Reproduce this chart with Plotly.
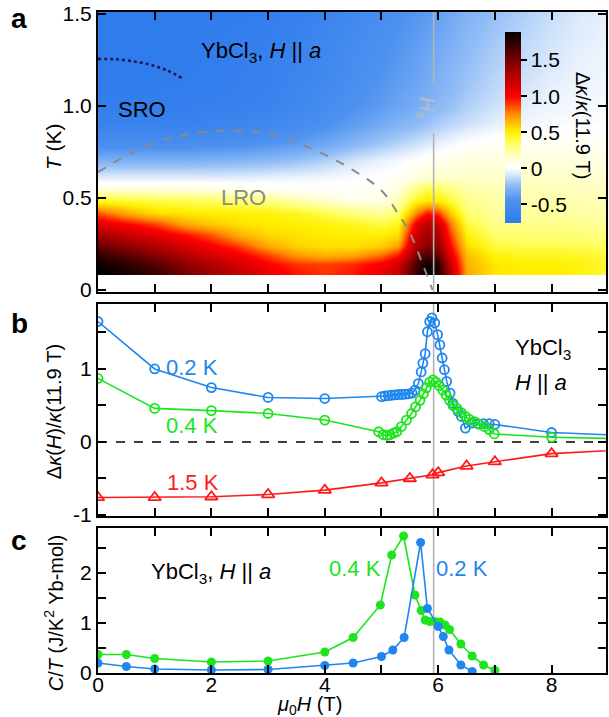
import plotly.graph_objects as go

# ---------------- Panel a: colour map data ----------------
map_H = [0, 0.5, 1, 1.5, 2, 2.5, 3, 3.5, 4, 4.5, 5, 5.3, 5.6, 5.8, 6.0, 6.2, 6.5, 7, 7.5, 8, 8.5, 9]
map_T = [0.10, 0.14, 0.19, 0.24, 0.30, 0.36, 0.42, 0.48, 0.54, 0.60, 0.70, 0.80, 0.90, 1.00, 1.10, 1.20, 1.35, 1.50]
map_z = [
    [1.90, 1.80, 1.70, 1.50, 1.35, 1.20, 1.05, 0.95, 0.90, 0.95, 1.05, 1.20, 1.70, 1.89, 1.80, 1.25, 0.68, 0.52, 0.50, 0.50, 0.48, 0.42],
    [1.85, 1.75, 1.60, 1.45, 1.30, 1.15, 1.00, 0.90, 0.88, 0.92, 1.02, 1.15, 1.65, 1.85, 1.75, 1.20, 0.66, 0.52, 0.50, 0.50, 0.48, 0.42],
    [1.72, 1.60, 1.45, 1.30, 1.15, 1.02, 0.88, 0.72, 0.65, 0.68, 0.80, 0.95, 1.45, 1.65, 1.55, 1.10, 0.62, 0.48, 0.45, 0.45, 0.44, 0.40],
    [1.55, 1.42, 1.30, 1.15, 1.02, 0.88, 0.68, 0.58, 0.54, 0.54, 0.58, 0.70, 1.30, 1.45, 1.40, 1.00, 0.55, 0.40, 0.38, 0.38, 0.37, 0.35],
    [1.35, 1.22, 1.10, 0.98, 0.85, 0.66, 0.56, 0.53, 0.51, 0.50, 0.50, 0.55, 1.20, 1.35, 1.30, 0.90, 0.48, 0.33, 0.32, 0.32, 0.31, 0.30],
    [1.10, 1.00, 0.88, 0.70, 0.60, 0.53, 0.51, 0.50, 0.48, 0.45, 0.40, 0.45, 1.05, 1.25, 1.20, 0.80, 0.40, 0.28, 0.27, 0.27, 0.26, 0.25],
    [0.85, 0.68, 0.55, 0.52, 0.50, 0.49, 0.48, 0.45, 0.38, 0.30, 0.25, 0.33, 0.75, 0.95, 0.90, 0.60, 0.32, 0.24, 0.23, 0.23, 0.22, 0.21],
    [0.45, 0.43, 0.40, 0.38, 0.36, 0.34, 0.30, 0.22, 0.15, 0.10, 0.10, 0.20, 0.46, 0.52, 0.50, 0.42, 0.27, 0.22, 0.21, 0.21, 0.20, 0.19],
    [0.15, 0.15, 0.14, 0.13, 0.12, 0.10, 0.08, 0.05, 0.03, 0.03, 0.05, 0.12, 0.30, 0.40, 0.38, 0.30, 0.22, 0.19, 0.19, 0.19, 0.18, 0.17],
    [-0.05, -0.05, -0.05, -0.05, -0.05, -0.05, -0.04, -0.03, -0.02, 0.00, 0.02, 0.05, 0.12, 0.16, 0.17, 0.16, 0.16, 0.16, 0.16, 0.16, 0.15, 0.14],
    [-0.28, -0.28, -0.28, -0.28, -0.27, -0.26, -0.24, -0.21, -0.16, -0.10, -0.05, -0.02, 0.02, 0.05, 0.07, 0.09, 0.11, 0.12, 0.12, 0.12, 0.11, 0.10],
    [-0.50, -0.50, -0.50, -0.50, -0.49, -0.47, -0.44, -0.40, -0.34, -0.27, -0.20, -0.16, -0.12, -0.09, -0.06, -0.03, 0.01, 0.04, 0.05, 0.05, 0.05, 0.04],
    [-0.64, -0.64, -0.64, -0.63, -0.62, -0.60, -0.57, -0.52, -0.46, -0.39, -0.32, -0.28, -0.24, -0.21, -0.18, -0.15, -0.11, -0.06, -0.03, -0.01, 0.00, 0.00],
    [-0.70, -0.70, -0.70, -0.69, -0.68, -0.66, -0.63, -0.58, -0.52, -0.45, -0.39, -0.35, -0.31, -0.28, -0.25, -0.22, -0.17, -0.11, -0.07, -0.04, -0.02, -0.02],
    [-0.72, -0.72, -0.72, -0.71, -0.70, -0.68, -0.65, -0.60, -0.55, -0.48, -0.42, -0.38, -0.34, -0.31, -0.28, -0.25, -0.20, -0.14, -0.10, -0.06, -0.04, -0.03],
    [-0.73, -0.73, -0.73, -0.72, -0.71, -0.69, -0.66, -0.62, -0.57, -0.50, -0.44, -0.40, -0.36, -0.33, -0.30, -0.27, -0.22, -0.16, -0.12, -0.08, -0.05, -0.04],
    [-0.74, -0.74, -0.74, -0.73, -0.72, -0.70, -0.68, -0.64, -0.59, -0.53, -0.47, -0.43, -0.39, -0.36, -0.33, -0.30, -0.25, -0.19, -0.14, -0.10, -0.07, -0.05],
    [-0.74, -0.74, -0.74, -0.74, -0.73, -0.72, -0.70, -0.67, -0.62, -0.56, -0.50, -0.46, -0.42, -0.40, -0.37, -0.33, -0.28, -0.22, -0.17, -0.12, -0.08, -0.06],
]
cbar_ticks = [-0.5, 0, 0.5, 1.0, 1.5]
cbar_text = ["-0.5", "0", "0.5", "1.0", "1.5"]

sro_H = [0, 0.3, 0.6, 0.9, 1.2, 1.5]
sro_T = [1.255, 1.253, 1.243, 1.225, 1.195, 1.148]
lro_H = [0, 0.5, 1, 1.5, 2, 2.5, 3, 3.5, 4, 4.5, 5, 5.3, 5.5, 5.7, 5.9]
lro_T = [0.64, 0.73, 0.80, 0.84, 0.86, 0.865, 0.85, 0.80, 0.735, 0.65, 0.54, 0.41, 0.31, 0.16, 0.0]
H_s = 5.92

# ---------------- Panel b: thermal conductivity ----------------
b02_H = [0, 1, 2, 3, 4, 5.0, 5.06, 5.12, 5.18, 5.24, 5.3, 5.36, 5.42, 5.48, 5.54, 5.59, 5.65, 5.70, 5.73,
         5.77, 5.81, 5.85, 5.89, 5.94, 5.99, 6.03, 6.07, 6.11, 6.15, 6.21, 6.26, 6.35, 6.41, 6.48, 6.6,
         6.7, 6.8, 6.9, 7.0, 8.0, 11.9]
b02_v = [1.65, 1.0, 0.745, 0.61, 0.595, 0.62, 0.63, 0.635, 0.64, 0.645, 0.65, 0.65, 0.655, 0.66, 0.67,
         0.71, 0.80, 0.96, 1.08, 1.21, 1.51, 1.65, 1.70, 1.63, 1.47, 1.33, 1.15, 0.99, 0.83, 0.67, 0.53,
         0.42, 0.35, 0.19, 0.26, 0.25, 0.25, 0.25, 0.24, 0.13, 0.0]
b04_H = [0, 1, 2, 3, 4, 4.95, 5.03, 5.1, 5.15, 5.21, 5.27, 5.35, 5.44, 5.53, 5.60, 5.68, 5.74, 5.79,
         5.85, 5.91, 5.96, 6.02, 6.08, 6.14, 6.20, 6.26, 6.33, 6.41, 6.48, 6.55, 6.64, 6.73, 6.82,
         6.90, 6.99, 8.0, 11.9]
b04_v = [0.87, 0.46, 0.43, 0.39, 0.30, 0.14, 0.10, 0.09, 0.10, 0.12, 0.14, 0.21, 0.30, 0.39, 0.48,
         0.57, 0.66, 0.74, 0.82, 0.85, 0.82, 0.77, 0.71, 0.64, 0.57, 0.50, 0.46, 0.40, 0.35, 0.31,
         0.28, 0.24, 0.21, 0.17, 0.11, 0.065, 0.0]
b15_H = [0, 1, 2, 3, 4, 5, 5.5, 5.9, 6.0, 6.5, 7, 8, 11.9]
b15_v = [-0.76, -0.76, -0.75, -0.72, -0.66, -0.56, -0.50, -0.45, -0.42, -0.33, -0.27, -0.16, 0.0]

# ---------------- Panel c: specific heat ----------------
c02_H = [0, 0.5, 1, 2, 3, 4, 4.5, 5, 5.2, 5.4, 5.69, 5.81, 6.0, 6.09, 6.19, 6.4, 6.6]
c02_v = [0.20, 0.13, 0.08, 0.06, 0.07, 0.15, 0.20, 0.33, 0.46, 0.71, 2.61, 1.29, 0.93, 0.73, 0.46, 0.16, 0.03]
c04_H = [0, 0.5, 1, 2, 3, 4, 4.5, 4.98, 5.18, 5.39, 5.59, 5.70, 5.77, 5.85, 5.94, 6.03, 6.12, 6.2,
         6.4, 6.6, 6.8, 7.0]
c04_v = [0.37, 0.37, 0.29, 0.22, 0.24, 0.42, 0.71, 1.36, 2.36, 2.74, 1.56, 1.25, 1.06, 1.03, 1.03,
         1.02, 0.96, 0.87, 0.58, 0.34, 0.16, 0.05]

x_ticks = [0, 1, 2, 3, 4, 5, 6, 7, 8]
x_ticktext = ["0", "", "2", "", "4", "", "6", "", "8"]

BLUE = "#1f86ee"
GREEN = "#1de41d"
RED = "#ff1a1a"
FONT = "Liberation Sans, Arial, sans-serif"

W, Hh = 609, 717
ML, MR, MT, MB = 98, 1, 12, 44
plot_h = Hh - MT - MB
plot_w = W - ML - MR


def py(ypx):
    return (Hh - MB - ypx) / plot_h


def px(xpx):
    return (xpx - ML) / plot_w


colorscale = [
    [0.0, "rgb(45,122,236)"],
    [0.12, "rgb(78,146,240)"],
    [0.2, "rgb(145,189,246)"],
    [0.265, "rgb(232,241,252)"],
    [0.29, "rgb(255,255,255)"],
    [0.33, "rgb(255,255,222)"],
    [0.42, "rgb(255,255,95)"],
    [0.475, "rgb(255,240,0)"],
    [0.57, "rgb(255,140,0)"],
    [0.66, "rgb(255,0,0)"],
    [0.8, "rgb(160,0,0)"],
    [1.0, "rgb(0,0,0)"],
]

TICKSIZE = 21
TXT = 22

fig = go.Figure()

fig.add_trace(go.Heatmap(
    x=map_H, y=map_T, z=map_z, zsmooth="best", zmin=-0.76, zmax=1.89,
    colorscale=colorscale, xaxis="x", yaxis="y", hoverinfo="skip",
    colorbar=dict(
        x=px(507), xanchor="left", thickness=16, lenmode="pixels", len=191,
        y=py(127.5), yanchor="middle", ypad=0, xpad=0, outlinewidth=0,
        tickvals=cbar_ticks, ticktext=cbar_text, ticks="outside", ticklen=6,
        tickwidth=1.5, tickcolor="black",
        tickfont=dict(size=TICKSIZE, family=FONT, color="black"),
    ),
))
fig.add_trace(go.Scatter(x=lro_H, y=lro_T, mode="lines", line=dict(color="#8a8a8a", width=2, dash="dash", shape="spline"),
                         xaxis="x", yaxis="y", hoverinfo="skip"))
fig.add_trace(go.Scatter(x=sro_H, y=sro_T, mode="lines", line=dict(color="#1a1a50", width=2.5, dash="dot", shape="spline"),
                         xaxis="x", yaxis="y", hoverinfo="skip"))

# panel b
for Hs_, v_, col, sym, sz in [(b02_H, b02_v, BLUE, "circle-open", 9),
                              (b04_H, b04_v, GREEN, "circle-open", 9),
                              (b15_H, b15_v, RED, "triangle-up-open", 11)]:
    fig.add_trace(go.Scatter(x=Hs_, y=v_, mode="lines+markers", xaxis="x2", yaxis="y2",
                             line=dict(color=col, width=1.6),
                             marker=dict(symbol=sym, size=sz, color=col, line=dict(width=1.8, color=col))))

# panel c
for Hs_, v_, col in [(c04_H, c04_v, GREEN), (c02_H, c02_v, BLUE)]:
    fig.add_trace(go.Scatter(x=Hs_, y=v_, mode="lines+markers", xaxis="x3", yaxis="y3",
                             line=dict(color=col, width=1.6),
                             marker=dict(symbol="circle", size=9, color=col)))

axis_common = dict(showline=True, linewidth=2, linecolor="black", mirror="ticks", ticks="inside",
                   ticklen=8, tickwidth=1.5, tickcolor="black", showgrid=False, zeroline=False,
                   tickfont=dict(size=TICKSIZE, family=FONT, color="black"))

xr = [0, 8.96]
fig.update_layout(
    width=W, height=Hh, margin=dict(l=ML, r=MR, t=MT, b=MB),
    paper_bgcolor="white", plot_bgcolor="white", showlegend=False,
    font=dict(family=FONT, size=TXT, color="black"),
    xaxis=dict(domain=[0, 1], anchor="y", range=xr, tickvals=x_ticks, showticklabels=False, **axis_common),
    yaxis=dict(domain=[py(292), py(12)], anchor="x", range=[-0.012, 1.51], tickvals=[0, 0.5, 1.0, 1.5],
               ticktext=["0", "0.5", "1.0", "1.5"], **axis_common),
    xaxis2=dict(domain=[0, 1], anchor="y2", range=xr, tickvals=x_ticks, showticklabels=False, **axis_common),
    yaxis2=dict(domain=[py(516), py(304)], anchor="x2", range=[-1.014, 1.89],
                tickvals=[-1, -0.5, 0, 0.5, 1, 1.5], ticktext=["-1", "", "0", "", "1", ""], **axis_common),
    xaxis3=dict(domain=[0, 1], anchor="y3", range=xr, tickvals=x_ticks, ticktext=x_ticktext,
                ticklabelstandoff=-8, **axis_common),
    yaxis3=dict(domain=[0, py(528)], anchor="x3", range=[0, 2.9],
                tickvals=[0, 0.5, 1, 1.5, 2, 2.5], ticktext=["0", "", "1", "", "2", ""], **axis_common),
)

gray_line = dict(color="#b4b4b4", width=1.6)
shapes = [
    dict(type="line", xref="x", yref="y", x0=H_s, x1=H_s, y0=-0.012, y1=0.853, line=gray_line, layer="above"),
    dict(type="line", xref="x", yref="y", x0=H_s, x1=H_s, y0=1.115, y1=1.51, line=gray_line, layer="above"),
    dict(type="line", xref="x2", yref="y2 domain", x0=H_s, x1=H_s, y0=0, y1=1, line=gray_line, layer="below"),
    dict(type="line", xref="x3", yref="y3 domain", x0=H_s, x1=H_s, y0=0, y1=1, line=gray_line, layer="below"),
    dict(type="line", xref="x2 domain", yref="y2", x0=0, x1=1, y0=0, y1=0,
         line=dict(color="black", width=1.6, dash="dash"), layer="below"),
]
fig.update_layout(shapes=shapes)

ann = []


def A(text, x, y, xref, yref, size=TXT, color="black", angle=0):
    ann.append(dict(text=text, x=x, y=y, xref=xref, yref=yref, showarrow=False,
                    xanchor="center", yanchor="middle",
                    font=dict(size=size, color=color, family=FONT), textangle=angle))


# panel labels
A("<b>a</b>", px(19), py(19), "paper", "paper", size=28)
A("<b>b</b>", px(19), py(323), "paper", "paper", size=28)
A("<b>c</b>", px(19), py(540), "paper", "paper", size=28)

# panel a text
A("YbCl<sub>3</sub>, <i>H</i> || <i>a</i>", 2.87, 1.29, "x", "y")
A("SRO", 0.78, 0.98, "x", "y")
A("LRO", 2.57, 0.50, "x", "y", color="#8a8a8a")
A("<i>H</i><sub>s</sub>", 5.78, 0.99, "x", "y", size=20, color="#bdbdbd", angle=90)
A("Δ<i>κ</i>/<i>κ</i>(11.9 T)", px(585), py(125), "paper", "paper", size=20, angle=90)
A("<i>T</i> (K)", px(53), py(147), "paper", "paper", size=21, angle=-90)

# panel b text
A("0.2 K", 1.65, 1.02, "x2", "y2", color=BLUE)
A("0.4 K", 1.65, 0.22, "x2", "y2", color=GREEN)
A("1.5 K", 1.68, -0.55, "x2", "y2", color=RED)
A("YbCl<sub>3</sub>", 7.84, 1.28, "x2", "y2")
A("<i>H</i> || <i>a</i>", 7.82, 0.82, "x2", "y2")
A("Δ<i>κ</i>(<i>H</i>)/<i>κ</i>(11.9 T)", px(54), py(412), "paper", "paper", size=20, angle=-90)

# panel c text
A("YbCl<sub>3</sub>, <i>H</i> || <i>a</i>", 2.0, 2.0, "x3", "y3")
A("0.4 K", 4.54, 2.09, "x3", "y3", color=GREEN)
A("0.2 K", 6.42, 2.09, "x3", "y3", color=BLUE)
A("<i>C</i>/<i>T</i> (J/K<sup>2</sup> Yb-mol)", px(53), py(613), "paper", "paper", size=20, angle=-90)
A("<i>μ</i><sub>0</sub><i>H</i> (T)", px(310), py(705), "paper", "paper", size=20)

fig.update_layout(annotations=ann)
fig.write_html("out.html")
